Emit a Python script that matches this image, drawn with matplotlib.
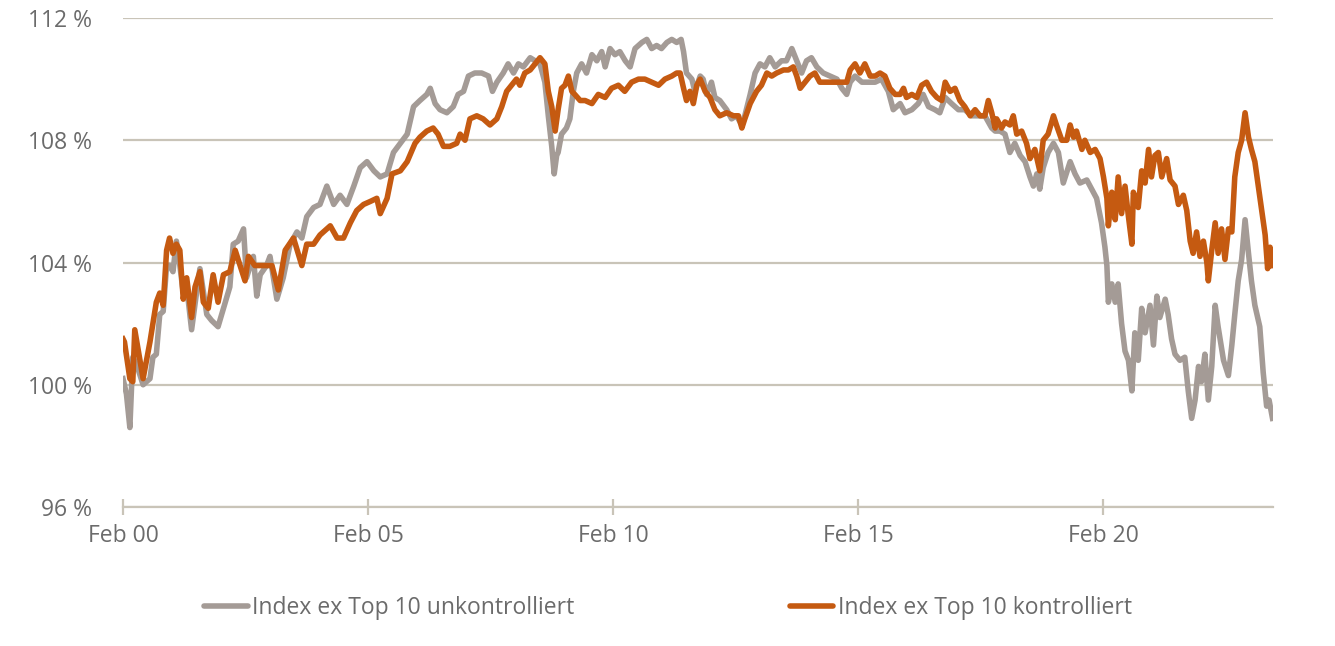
import matplotlib
matplotlib.use("Agg")
import matplotlib.pyplot as plt
from matplotlib.lines import Line2D

# years since Feb 2000
t_unk = [0.00, 0.07, 0.14, 0.20, 0.27, 0.41, 0.55, 0.61, 0.68, 0.75, 0.82, 0.89, 0.95, 1.02, 1.09,
         1.16, 1.23, 1.30, 1.40, 1.50, 1.57, 1.71, 1.81, 1.94, 2.05, 2.18, 2.25, 2.35, 2.46, 2.52,
         2.66, 2.73, 2.80, 2.93, 3.00, 3.14, 3.27, 3.41, 3.55, 3.65, 3.75, 3.89, 4.02, 4.16, 4.30,
         4.43, 4.57, 4.71, 4.84, 4.98, 5.12, 5.25, 5.39, 5.52, 5.66, 5.80, 5.93, 6.06, 6.20, 6.27,
         6.37, 6.47, 6.61, 6.74, 6.84, 6.95, 7.05, 7.18, 7.32, 7.46, 7.54, 7.63, 7.76, 7.86, 7.97,
         8.07, 8.17, 8.31, 8.41, 8.51, 8.61, 8.68, 8.75, 8.80, 8.85, 8.88, 8.95, 9.05, 9.12, 9.19,
         9.26, 9.36, 9.46, 9.57, 9.67, 9.77, 9.84, 9.94, 10.04, 10.14, 10.25, 10.35, 10.45, 10.59,
         10.69, 10.79, 10.89, 10.99, 11.10, 11.20, 11.30, 11.39, 11.44, 11.50, 11.61, 11.67, 11.78,
         11.84, 11.91, 12.01, 12.08, 12.18, 12.32, 12.42, 12.52, 12.63, 12.69, 12.80, 12.90, 13.00,
         13.10, 13.20, 13.31, 13.44, 13.54, 13.65, 13.75, 13.85, 13.95, 14.05, 14.16, 14.29, 14.43,
         14.57, 14.67, 14.77, 14.84, 14.94, 15.08, 15.21, 15.35, 15.48, 15.62, 15.72, 15.86, 15.96,
         16.10, 16.23, 16.33, 16.44, 16.57, 16.67, 16.78, 16.91, 17.05, 17.18, 17.32, 17.46, 17.59,
         17.73, 17.80, 17.90, 18.00, 18.10, 18.20, 18.31, 18.41, 18.51, 18.58, 18.65, 18.71, 18.78,
         18.88, 18.99, 19.09, 19.19, 19.33, 19.43, 19.53, 19.67, 19.77, 19.87, 19.97, 20.04, 20.08,
         20.11, 20.18, 20.25, 20.31, 20.38, 20.45, 20.52, 20.59, 20.65, 20.72, 20.79, 20.86, 20.96,
         21.03, 21.10, 21.16, 21.27, 21.33, 21.40, 21.47, 21.57, 21.67, 21.74, 21.81, 21.88, 21.95,
         22.01, 22.08, 22.15, 22.22, 22.29, 22.35, 22.46, 22.56, 22.63, 22.69, 22.76, 22.83, 22.90,
         22.97, 23.03, 23.10, 23.20, 23.27, 23.34, 23.39, 23.46]
v_unk = [100.2, 99.7, 98.6, 100.9, 100.7, 100.0, 100.2, 100.9, 101.0, 102.3, 102.4, 103.9, 103.9, 103.7, 104.7,
         103.9, 103.0, 103.2, 101.8, 103.0, 103.8, 102.3, 102.1, 101.9, 102.5, 103.2, 104.6, 104.7, 105.1, 103.5,
         104.2, 102.9, 103.6, 103.9, 104.2, 102.8, 103.5, 104.6, 105.0, 104.8, 105.5, 105.8, 105.9, 106.5, 105.9,
         106.2, 105.9, 106.5, 107.1, 107.3, 107.0, 106.8, 106.9, 107.6, 107.9, 108.2, 109.1, 109.3, 109.5, 109.7,
         109.2, 109.0, 108.9, 109.1, 109.5, 109.6, 110.1, 110.2, 110.2, 110.1, 109.6, 109.9, 110.2, 110.5, 110.2,
         110.5, 110.4, 110.7, 110.6, 110.5, 109.9, 108.8, 107.8, 106.9, 107.5, 107.6, 108.2, 108.4, 108.7, 109.6,
         110.2, 110.5, 110.2, 110.8, 110.6, 110.9, 110.4, 111.0, 110.8, 110.9, 110.6, 110.4, 111.0, 111.2,
         111.3, 111.0, 111.1, 111.0, 111.2, 111.3, 111.2, 111.3, 110.9, 110.2, 110.0, 109.6, 110.1,
         110.0, 109.5, 109.9, 109.4, 109.3, 109.0, 108.7, 108.8, 108.5, 108.8, 109.5, 110.2, 110.5,
         110.4, 110.7, 110.4, 110.6, 110.6, 111.0, 110.6, 110.2, 110.6, 110.7, 110.4, 110.2, 110.1,
         110.0, 109.7, 109.5, 109.9, 110.1, 109.9, 109.9, 109.9, 110.0, 109.6, 109.0, 109.2, 108.9,
         109.0, 109.2, 109.5, 109.1, 109.0, 108.9, 109.4, 109.2, 109.0, 109.0, 108.8, 108.8, 108.8,
         108.4, 108.3, 108.3, 108.2, 107.6, 107.9, 107.5, 107.3, 106.8, 106.5, 106.9, 106.4, 107.1,
         107.6, 107.9, 107.6, 106.6, 107.3, 106.9, 106.6, 106.7, 106.4, 106.1, 105.3, 104.5, 103.9,
         102.7, 103.3, 102.7, 103.3, 102.0, 101.1, 100.8, 99.8, 101.7, 100.8, 102.5, 101.7, 102.6,
         101.3, 102.9, 102.2, 102.8, 102.3, 101.5, 101.0, 100.8, 100.9, 99.8, 98.9, 99.5, 100.6,
         100.1, 101.0, 99.5, 100.6, 102.6, 101.9, 100.8, 100.3, 101.3, 102.3, 103.4, 104.1, 105.4,
         104.3, 103.4, 102.6, 101.9, 100.4, 99.3, 99.5, 98.9]

t_kon = [0.00, 0.03, 0.14, 0.20, 0.24, 0.41, 0.55, 0.68, 0.75, 0.82, 0.89, 0.95, 1.02, 1.09, 1.16,
         1.23, 1.30, 1.40, 1.47, 1.57, 1.64, 1.74, 1.84, 1.94, 2.05, 2.18, 2.29, 2.39, 2.49, 2.56,
         2.69, 2.86, 3.04, 3.17, 3.31, 3.48, 3.65, 3.75, 3.89, 4.02, 4.23, 4.37, 4.50, 4.64, 4.77,
         4.91, 5.05, 5.18, 5.25, 5.39, 5.49, 5.66, 5.80, 5.96, 6.06, 6.20, 6.33, 6.43, 6.54, 6.67,
         6.81, 6.88, 6.98, 7.08, 7.22, 7.35, 7.49, 7.63, 7.73, 7.83, 7.93, 8.03, 8.10, 8.20, 8.31,
         8.41, 8.51, 8.61, 8.68, 8.75, 8.82, 8.88, 8.95, 9.02, 9.09, 9.16, 9.22, 9.33, 9.43, 9.57,
         9.70, 9.84, 9.97, 10.11, 10.24, 10.38, 10.52, 10.65, 10.79, 10.93, 11.06, 11.20, 11.30,
         11.37, 11.44, 11.50, 11.57, 11.64, 11.71, 11.78, 11.88, 11.98, 12.08, 12.18, 12.32, 12.46,
         12.56, 12.63, 12.69, 12.80, 12.93, 13.03, 13.14, 13.24, 13.34, 13.48, 13.58, 13.68, 13.75,
         13.82, 13.92, 14.02, 14.12, 14.22, 14.36, 14.50, 14.63, 14.77, 14.84, 14.94, 15.04, 15.14,
         15.25, 15.35, 15.45, 15.55, 15.65, 15.76, 15.86, 15.93, 15.99, 16.10, 16.20, 16.30, 16.40,
         16.50, 16.61, 16.71, 16.78, 16.88, 16.98, 17.08, 17.18, 17.29, 17.39, 17.49, 17.59, 17.66,
         17.73, 17.80, 17.83, 17.93, 18.00, 18.10, 18.17, 18.24, 18.34, 18.44, 18.51, 18.61, 18.71,
         18.78, 18.88, 18.99, 19.05, 19.16, 19.26, 19.33, 19.40, 19.46, 19.57, 19.63, 19.74, 19.84,
         19.94, 20.01, 20.08, 20.11, 20.18, 20.25, 20.31, 20.38, 20.45, 20.52, 20.59, 20.62, 20.72,
         20.79, 20.86, 20.93, 20.99, 21.06, 21.13, 21.20, 21.30, 21.37, 21.47, 21.54, 21.64, 21.71,
         21.78, 21.84, 21.91, 21.98, 22.05, 22.12, 22.15, 22.22, 22.29, 22.35, 22.42, 22.49, 22.56,
         22.63, 22.69, 22.76, 22.83, 22.90, 22.97, 23.03, 23.10, 23.17, 23.24, 23.31, 23.36, 23.41,
         23.46]
v_kon = [101.5, 101.4, 100.2, 100.1, 101.8, 100.2, 101.4, 102.7, 103.0, 102.6, 104.4, 104.8, 104.3, 104.6, 104.4,
         102.8, 103.5, 102.2, 103.2, 103.7, 102.7, 102.5, 103.6, 102.7, 103.6, 103.7, 104.4, 103.9, 103.4, 104.2,
         103.9, 103.9, 103.9, 103.1, 104.4, 104.8, 103.9, 104.6, 104.6, 104.9, 105.2, 104.8, 104.8, 105.3, 105.7,
         105.9, 106.0, 106.1, 105.6, 106.1, 106.9, 107.0, 107.3, 107.9, 108.1, 108.3, 108.4, 108.2, 107.8, 107.8,
         107.9, 108.2, 108.0, 108.7, 108.8, 108.7, 108.5, 108.7, 109.1, 109.6, 109.8, 110.0, 109.8, 110.2, 110.3,
         110.5, 110.7, 110.5, 109.6, 109.1, 108.3, 109.0, 109.7, 109.8, 110.1, 109.6, 109.5, 109.3, 109.3, 109.2,
         109.5, 109.4, 109.7, 109.8, 109.6, 109.9, 110.0, 110.0, 109.9, 109.8, 110.0, 110.1, 110.2,
         110.2, 109.7, 109.3, 109.6, 109.2, 109.8, 110.0, 109.6, 109.4, 109.0, 108.8, 108.9, 108.8,
         108.8, 108.4, 108.7, 109.2, 109.6, 109.8, 110.2, 110.1, 110.2, 110.3, 110.3, 110.4, 110.1,
         109.7, 109.9, 110.1, 110.2, 109.9, 109.9, 109.9, 109.9, 109.9, 110.3, 110.5, 110.2, 110.5,
         110.1, 110.1, 110.2, 110.1, 109.7, 109.5, 109.5, 109.7, 109.4, 109.5, 109.4, 109.8, 109.9,
         109.6, 109.4, 109.3, 109.9, 109.6, 109.7, 109.3, 109.1, 108.8, 109.0, 108.8, 108.8, 109.3,
         108.9, 108.4, 108.7, 108.4, 108.6, 108.5, 108.8, 108.2, 108.3, 107.9, 107.4, 107.7, 107.0,
         108.0, 108.2, 108.8, 108.5, 108.0, 108.0, 108.5, 108.1, 108.3, 107.7, 108.0, 107.6, 107.7,
         107.4, 106.8, 106.1, 105.2, 106.3, 105.4, 106.8, 105.6, 106.5, 105.5, 104.6, 106.3, 105.8,
         107.0, 106.6, 107.7, 106.8, 107.5, 107.6, 106.8, 107.4, 106.7, 106.5, 105.9, 106.2, 105.7,
         104.7, 104.3, 105.0, 104.2, 104.7, 104.0, 103.4, 104.4, 105.3, 104.3, 105.1, 104.1, 105.1,
         105.0, 106.8, 107.6, 108.0, 108.9, 108.1, 107.7, 107.3, 106.5, 105.7, 104.9, 103.8, 104.5,
         103.9]

x_ticks = [0, 5, 10, 15, 20]
x_labels = ["Feb 00", "Feb 05", "Feb 10", "Feb 15", "Feb 20"]
y_ticks = [96, 100, 104, 108, 112]
y_labels = ["96 %", "100 %", "104 %", "108 %", "112 %"]
series_names = ["Index ex Top 10 unkontrolliert", "Index ex Top 10 kontrolliert"]

GRAY = "#a49b96"
ORANGE = "#c55a11"
GRID = "#c9c4b8"
TEXT = "#6b6b6b"
FS = 16.5

plt.rcParams['font.family'] = ['Open Sans', 'DejaVu Sans']

W, H = 1335, 646
fig = plt.figure(figsize=(W / 100, H / 100), dpi=100)
ax = fig.add_axes([123 / W, 1 - 507 / H, (1273 - 123) / W, (507 - 18) / H])

ax.plot(t_unk, v_unk, color=GRAY, lw=4.0, solid_joinstyle='round', zorder=3)
ax.plot(t_kon, v_kon, color=ORANGE, lw=4.0, solid_joinstyle='round', zorder=4)

ax.set_xlim(0, 23.47)
ax.set_ylim(96, 112)
ax.set_yticks(y_ticks)
ax.set_yticklabels(y_labels)
ax.set_xticks(x_ticks)
ax.set_xticklabels(x_labels)

ax.yaxis.grid(True, color=GRID, lw=1.6, zorder=1)
ax.set_axisbelow(True)
for s in ['top', 'right', 'left']:
    ax.spines[s].set_visible(False)
ax.spines['bottom'].set_color(GRID)
ax.spines['bottom'].set_linewidth(1.6)

ax.tick_params(axis='y', length=0, pad=22, labelsize=FS, labelcolor=TEXT)
ax.tick_params(axis='x', direction='inout', length=11, width=1.6, color=GRID,
               pad=7, labelsize=FS, labelcolor=TEXT)

handles = [Line2D([], [], color=GRAY, lw=4.0, solid_capstyle='round'),
           Line2D([], [], color=ORANGE, lw=4.0, solid_capstyle='round')]
fig.legend(handles, series_names, loc='center left',
           bbox_to_anchor=(204 / W, 1 - 608 / H), ncol=2, frameon=False,
           fontsize=FS, labelcolor=TEXT, handlelength=1.9, handletextpad=0.2,
           columnspacing=9.4, borderpad=0, borderaxespad=0)

fig.savefig("out.png", dpi=100)
